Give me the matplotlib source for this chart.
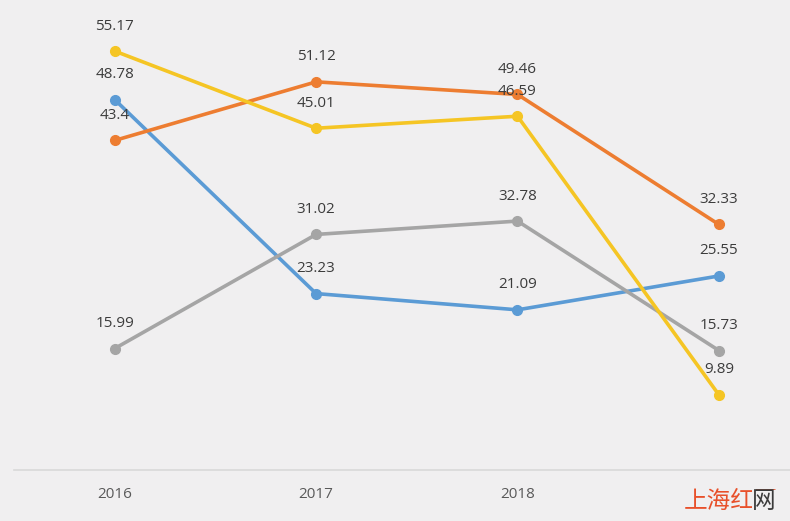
import matplotlib
matplotlib.use("Agg")
import matplotlib.pyplot as plt

years = ["2016", "2017", "2018", "2019"]
blue = [48.78, 23.23, 21.09, 25.55]
orange = [43.4, 51.12, 49.46, 32.33]
gray = [15.99, 31.02, 32.78, 15.73]
yellow = [55.17, 45.01, 46.59, 9.89]

BG = "#f0eff0"
series = [
    (blue, "#5b9bd5"),
    (orange, "#ed7d31"),
    (gray, "#a5a5a5"),
    (yellow, "#f5c524"),
]

plt.rcParams["font.family"] = ["Open Sans", "DejaVu Sans"]

fig = plt.figure(figsize=(7.90, 5.21), dpi=100, facecolor=BG)
ax = fig.add_axes([0.0177, 0.098, 0.9823, 0.902])
ax.set_facecolor(BG)

x = list(range(len(years)))
for vals, col in series:
    ax.plot(x, vals, "-o", color=col, lw=2.6, ms=7, zorder=2,
            solid_capstyle="round")

for vals, col in series:
    for xi, v in zip(x, vals):
        ax.annotate(f"{v:g}", (xi, v), xytext=(0, 18), textcoords="offset points",
                    ha="center", va="center", fontsize=11, color="#3c3c3c", zorder=4)

ax.set_xlim(-0.5, 3.353)
ax.set_ylim(0, 61.9)
ax.set_xticks(x)
ax.set_xticklabels(years, fontsize=11, color="#595959")
ax.tick_params(axis="x", length=0, pad=12)
ax.set_yticks([])
for s in ["top", "right", "left"]:
    ax.spines[s].set_visible(False)
ax.spines["bottom"].set_color("#d9d9d9")
ax.spines["bottom"].set_linewidth(1.2)

# watermark over the last tick label, as in the source image
fig.text(0.866, 0.038, "上海红网", fontsize=17, color="#e8502a",
         family=["Noto Sans CJK SC"], ha="left", va="center",
         bbox=dict(facecolor=BG, edgecolor="none", pad=1), zorder=10)
fig.text(0.952, 0.038, "网", fontsize=17, color="#3a3a3a",
         family=["Noto Sans CJK SC"], ha="left", va="center", zorder=11,
         bbox=dict(facecolor=BG, edgecolor="none", pad=0))

fig.savefig("out.png", dpi=100, facecolor=BG)
